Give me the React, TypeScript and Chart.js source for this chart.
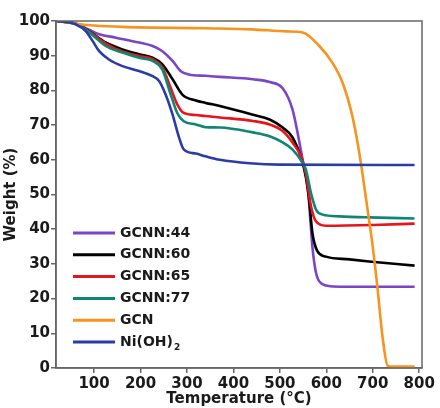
import React, { useEffect, useRef } from 'react';
import { Chart, registerables } from 'chart.js';

Chart.register(...registerables);

const seriesLabels = ['GCNN:44', 'GCNN:60', 'GCNN:65', 'GCNN:77', 'GCN', 'Ni(OH)2'];
const seriesColors = ['#7a45c6', '#000000', '#e8141c', '#0f8673', '#f7931e', '#2b3ca6'];

const xTicks = [100, 200, 300, 400, 500, 600, 700, 800];
const yTicks = [0, 10, 20, 30, 40, 50, 60, 70, 80, 90, 100];

const gcnn44T = [20, 60, 89, 111, 147, 197, 226, 247, 269, 286, 304, 340, 371, 442, 478, 506, 527, 538, 549, 560, 566, 570, 578, 589, 614, 700, 790];
const gcnn44W = [100, 99.3, 97.5, 96.2, 95.2, 93.8, 92.8, 91.3, 88.5, 85.6, 84.6, 84.2, 83.9, 83.2, 82.4, 80.6, 74.6, 67.9, 60, 52, 42, 35, 27.3, 24.4, 23.5, 23.4, 23.4];

const gcnn60T = [20, 60, 89, 125, 161, 197, 226, 247, 269, 290, 319, 340, 371, 442, 478, 506, 527, 547, 556, 563, 570, 581, 599, 650, 692, 790];
const gcnn60W = [100, 99.2, 97.1, 93.8, 91.8, 90.4, 89.4, 87.5, 83.2, 78.8, 77.1, 76.4, 75.5, 73, 71.6, 69.3, 66.5, 60, 55, 48.5, 38.9, 33.6, 32.1, 31.3, 30.7, 29.5];

const gcnn65T = [20, 60, 89, 125, 161, 197, 226, 247, 265, 279, 293, 319, 340, 371, 442, 478, 506, 527, 547, 556, 567, 578, 599, 700, 790];
const gcnn65W = [100, 99.2, 97, 93.5, 91.2, 89.9, 89, 86.6, 80.7, 76, 73.5, 72.9, 72.6, 72.2, 71.2, 70.2, 68.3, 65, 60.5, 56, 46.6, 42.2, 41, 41.2, 41.6];

const gcnn77T = [20, 60, 89, 125, 161, 197, 226, 247, 265, 279, 293, 319, 340, 371, 442, 478, 506, 527, 547, 556, 567, 578, 592, 628, 692, 790];
const gcnn77W = [100, 99.2, 96.8, 92.8, 90.9, 89.4, 88.5, 86, 78.8, 73.5, 71.1, 70.2, 69.4, 69.3, 67.9, 66.8, 65, 63, 59.5, 57.2, 50.4, 45.6, 44.2, 43.7, 43.4, 43.1];

const gcnT = [20, 60, 100, 161, 340, 440, 515, 549, 585, 613, 635, 656, 671, 681, 690, 699, 710, 721, 732, 745, 790];
const gcnW = [100, 99.2, 98.7, 98.3, 97.9, 97.6, 97, 96.7, 92.8, 88, 82.2, 72.6, 62, 53, 44.5, 36, 23.3, 9, 0.7, 0.4, 0.4];

const niohT = [20, 61, 82, 97, 111, 132, 161, 197, 226, 240, 254, 269, 283, 293, 319, 340, 371, 435, 500, 790];
const niohW = [100, 99, 97.1, 94.2, 91.3, 88.9, 87, 85.6, 84.1, 82.7, 78.8, 73, 66.4, 63, 61.8, 61, 60, 59, 58.6, 58.5];

const seriesT = [gcnn44T, gcnn60T, gcnn65T, gcnn77T, gcnT, niohT];
const seriesW = [gcnn44W, gcnn60W, gcnn65W, gcnn77W, gcnW, niohW];

const FONT = "'DejaVu Sans', sans-serif";

const framePlugin = {
  id: 'frame',
  afterDatasetsDraw(chart: any) {
    const { ctx, chartArea } = chart;
    const { left, top, right, bottom } = chartArea;
    ctx.save();
    ctx.strokeStyle = '#666666';
    ctx.lineWidth = 1.5;
    ctx.strokeRect(left, top, right - left, bottom - top);
    ctx.restore();
  },
};

const legendPlugin = {
  id: 'insideLegend',
  afterDatasetsDraw(chart: any) {
    const { ctx, chartArea } = chart;
    const x0 = chartArea.left + 17;
    const x1 = chartArea.left + 59;
    const tx = chartArea.left + 64;
    const startY = chartArea.bottom - 135;
    const step = 21.8;
    ctx.save();
    chart.data.datasets.forEach((ds: any, i: number) => {
      const y = startY + i * step;
      ctx.strokeStyle = ds.borderColor;
      ctx.lineWidth = 3;
      ctx.beginPath();
      ctx.moveTo(x0, y);
      ctx.lineTo(x1, y);
      ctx.stroke();
      ctx.fillStyle = '#1a1a1a';
      ctx.textBaseline = 'middle';
      ctx.textAlign = 'left';
      ctx.font = `bold 14px ${FONT}`;
      const label: string = ds.label;
      if (label.endsWith('2') && label.startsWith('Ni')) {
        const main = label.slice(0, -1);
        ctx.fillText(main, tx, y);
        const w = ctx.measureText(main).width;
        ctx.font = `bold 9px ${FONT}`;
        ctx.fillText('2', tx + w + 1, y + 6);
      } else {
        ctx.fillText(label, tx, y);
      }
    });
    ctx.restore();
  },
};

export default function App() {
  const canvasRef = useRef<HTMLCanvasElement | null>(null);

  useEffect(() => {
    document.body.style.margin = '0';
    const canvas = canvasRef.current;
    if (!canvas) return;
    const datasets = seriesLabels.map((label, i) => ({
      label,
      data: seriesT[i].map((t, j) => ({ x: t, y: seriesW[i][j] })),
      borderColor: seriesColors[i],
      backgroundColor: seriesColors[i],
      borderWidth: 2.6,
      pointRadius: 0,
      tension: 0.4,
      cubicInterpolationMode: 'monotone' as const,
      fill: false,
      order: 6 - i,
    }));
    const chart = new Chart(canvas, {
      type: 'line',
      data: { datasets },
      plugins: [framePlugin, legendPlugin],
      options: {
        animation: false,
        responsive: false,
        maintainAspectRatio: false,
        layout: { padding: { top: 21, right: 18, left: 0, bottom: 0 } },
        plugins: {
          legend: { display: false },
          tooltip: { enabled: false },
        },
        scales: {
          x: {
            type: 'linear',
            min: 18,
            max: 806,
            afterBuildTicks: (s: any) => {
              s.ticks = xTicks.map((v) => ({ value: v }));
            },
            afterFit: (s: any) => {
              s.height = 40;
            },
            ticks: {
              color: '#1a1a1a',
              font: { family: FONT, size: 15, weight: 'bold' },
              padding: 2,
              maxRotation: 0,
            },
            grid: {
              display: true,
              drawOnChartArea: false,
              drawTicks: true,
              tickLength: 5,
              color: '#666666',
              lineWidth: 1.5,
            },
            border: { display: true, color: '#666666', width: 1.5 },
            title: {
              display: true,
              text: 'Temperature (°C)',
              color: '#1a1a1a',
              font: { family: FONT, size: 15, weight: 'bold' },
              padding: { top: 0, bottom: 0 },
            },
          },
          y: {
            type: 'linear',
            min: 0,
            max: 100,
            afterBuildTicks: (s: any) => {
              s.ticks = yTicks.map((v) => ({ value: v }));
            },
            afterFit: (s: any) => {
              s.width = 56;
            },
            ticks: {
              color: '#1a1a1a',
              font: { family: FONT, size: 15, weight: 'bold' },
              padding: 1,
            },
            grid: {
              display: true,
              drawOnChartArea: false,
              drawTicks: true,
              tickLength: 5,
              color: '#666666',
              lineWidth: 1.5,
            },
            border: { display: true, color: '#666666', width: 1.5 },
            title: {
              display: true,
              text: 'Weight (%)',
              color: '#1a1a1a',
              font: { family: FONT, size: 15, weight: 'bold' },
              padding: { top: 2, bottom: 0 },
            },
          },
        },
      },
    } as any);
    return () => chart.destroy();
  }, []);

  return (
    <div style={{ width: 440, height: 408 }}>
      <canvas ref={canvasRef} width={440} height={408} style={{ display: 'block' }} />
    </div>
  );
}
